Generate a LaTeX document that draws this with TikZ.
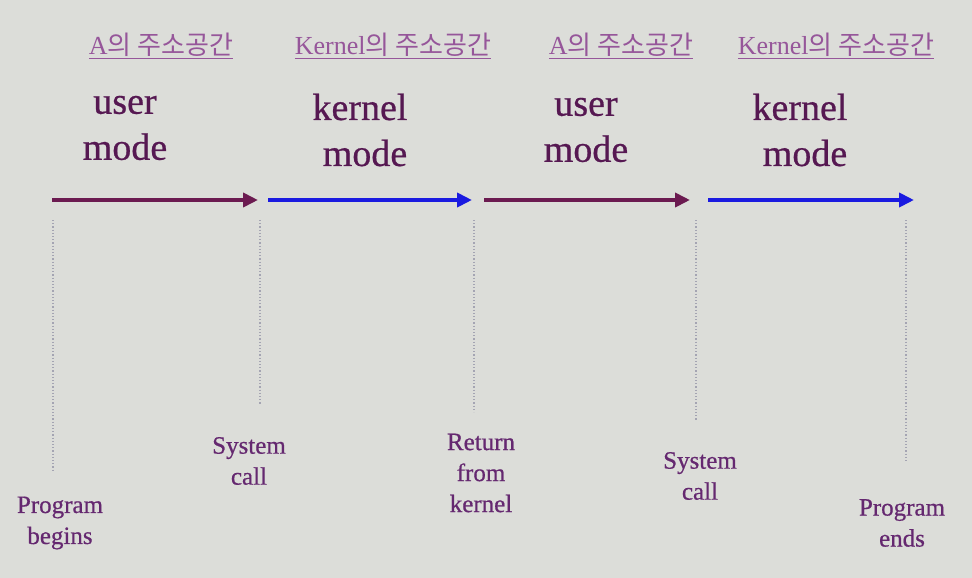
\documentclass[tikz,border=0pt]{standalone}
\usepackage{fontspec}
\setmainfont{Liberation Serif}
\newfontfamily\heavyserif[FakeBold=0.6]{Liberation Serif}
\newfontfamily\krfont{Noto Sans CJK KR}
\usetikzlibrary{arrows.meta}
\definecolor{bgcol}{HTML}{DCDDD9}
\definecolor{modetext}{HTML}{561852}
\definecolor{headtext}{HTML}{96569A}
\definecolor{eventtext}{HTML}{652870}
\definecolor{userarrow}{HTML}{6B1A50}
\definecolor{kernelarrow}{HTML}{1A1AE0}
\definecolor{guide}{HTML}{A4A4B2}
\tikzset{
  header/.style={text=headtext, inner sep=0pt, font=\fontsize{26}{30}\selectfont},
  modelabel/.style={text=modetext, inner sep=0pt, align=center, font=\heavyserif\fontsize{38}{46}\selectfont},
  eventlabel/.style={text=eventtext, inner sep=0pt, align=center, font=\heavyserif\fontsize{25}{31}\selectfont},
  phase/.style={line width=4.5pt, -{Triangle[length=15pt,width=14pt]}},
  userphase/.style={phase, draw=userarrow},
  kernelphase/.style={phase, draw=kernelarrow},
  guideline/.style={draw=guide, line width=1.2pt, dotted}
}
\begin{document}
\begin{tikzpicture}[x=1pt,y=-1pt]
  \fill[bgcol] (0,0) rectangle (972,578);
  \useasboundingbox (0,0) rectangle (972,578);

  % address-space headers
  \node[header] (h1) at (161,46) {\underline{A{\krfont 의 주소공간}}};
  \node[header] (h2) at (393,46) {\underline{Kernel{\krfont 의 주소공간}}};
  \node[header] (h3) at (621,46) {\underline{A{\krfont 의 주소공간}}};
  \node[header] (h4) at (836,46) {\underline{Kernel{\krfont 의 주소공간}}};

  % mode labels
  \node[modelabel] (m1) at (125,128) {user\\mode};
  \node[modelabel] (m2) at (360,130) {kernel\\\hspace*{10pt}mode};
  \node[modelabel] (m3) at (586,130) {user\\mode};
  \node[modelabel] (m4) at (800,130) {kernel\\\hspace*{10pt}mode};

  % arrow end points
  \coordinate (a0) at (52,200);
  \coordinate (a1) at (258,200);
  \coordinate (b0) at (268,200);
  \coordinate (b1) at (472,200);
  \coordinate (c0) at (484,200);
  \coordinate (c1) at (690,200);
  \coordinate (d0) at (708,200);
  \coordinate (d1) at (914,200);

  \draw[userphase] (a0) -- (a1);
  \draw[kernelphase] (b0) -- (b1);
  \draw[userphase] (c0) -- (c1);
  \draw[kernelphase] (d0) -- (d1);

  % event guide lines
  \coordinate (g0t) at (53,220);  \coordinate (g0b) at (53,472);
  \coordinate (g1t) at (260,220); \coordinate (g1b) at (260,405);
  \coordinate (g2t) at (474,220); \coordinate (g2b) at (474,412);
  \coordinate (g3t) at (696,220); \coordinate (g3b) at (696,420);
  \coordinate (g4t) at (906,220); \coordinate (g4b) at (906,463);
  \draw[guideline] (g0t) -- (g0b);
  \draw[guideline] (g1t) -- (g1b);
  \draw[guideline] (g2t) -- (g2b);
  \draw[guideline] (g3t) -- (g3b);
  \draw[guideline] (g4t) -- (g4b);

  % event labels
  \node[eventlabel] (e0) at (60,523) {Program\\begins};
  \node[eventlabel] (e1) at (249,461) {System\\call};
  \node[eventlabel] (e2) at (481,473) {Return\\from\\kernel};
  \node[eventlabel] (e3) at (700,476) {System\\call};
  \node[eventlabel] (e4) at (902,523) {Program\\ends};
\end{tikzpicture}
\end{document}
